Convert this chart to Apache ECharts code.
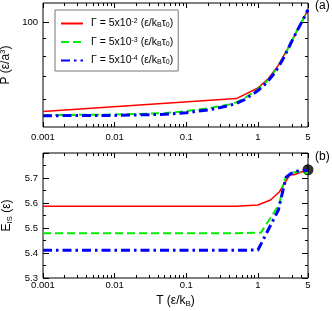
<!DOCTYPE html>
<html><head><meta charset="utf-8">
<script src="https://cdn.jsdelivr.net/npm/echarts@6/dist/echarts.min.js"></script>
<style>html,body{margin:0;padding:0;background:#fff}#c{width:332px;height:311px}</style>
</head><body><div id="c"></div>
<script>
// ---------- data ----------
const gammaExp = ['-2', '-3', '-4'];
const seriesNames = ['Γ = 5x10^-2 (ε/k_Bτ_0)', 'Γ = 5x10^-3 (ε/k_Bτ_0)', 'Γ = 5x10^-4 (ε/k_Bτ_0)'];
const colors = ['#ff0000', '#00ee00', '#0000ff'];

// panel (a): pressure P vs T
const tRedA = [0.001, 0.5, 1, 1.4, 1.9, 2.6, 3.6, 5];
const pRedA = [55.4, 60.4, 64.8, 69.0, 75.0, 84.0, 95.7, 109];
const tGreenA = [0.001, 0.01, 0.05, 0.1, 0.2, 0.3, 0.4, 0.5, 0.65, 0.8, 1, 1.2, 1.4, 1.6, 1.9, 2.2, 2.6, 3, 3.6, 4.2, 5];
const pGreenA = [54.1, 54.3, 54.8, 55.6, 56.6, 57.4, 58.1, 58.9, 60.6, 62.3, 64.3, 66.4, 68.5, 70.9, 74.6, 78.4, 83.9, 89.0, 95.7, 101.5, 109];
const tBlueA = [0.001, 0.01, 0.05, 0.1, 0.2, 0.3, 0.4, 0.5, 0.65, 0.8, 1, 1.2, 1.4, 1.6, 1.9, 2.2, 2.6, 3, 3.6, 4.2, 5];
const pBlueA = [53.9, 54.0, 54.4, 55.0, 56.0, 56.9, 57.7, 58.5, 60.0, 61.7, 63.7, 65.8, 68.0, 70.4, 74.0, 78.0, 83.5, 88.8, 95.5, 101.5, 109];

// panel (b): inherent structure energy E_IS vs T
const tRedB = [0.001, 0.5, 1.0, 1.5, 2.0, 2.4, 2.8, 3.2, 3.7, 4.3, 5];
const eRedB = [5.587, 5.587, 5.592, 5.612, 5.645, 5.683, 5.713, 5.713, 5.72, 5.727, 5.73];
const tGreenB = [0.001, 0.5, 1.1, 2.0, 2.3, 2.8, 3.5, 4.2, 5];
const eGreenB = [5.479, 5.479, 5.481, 5.596, 5.689, 5.718, 5.725, 5.722, 5.72];
const tBlueB = [0.001, 0.5, 1.0, 1.93, 2.47, 2.9, 3.5, 4.2, 5];
const eBlueB = [5.411, 5.411, 5.412, 5.572, 5.703, 5.718, 5.727, 5.73, 5.73];
const markerT = [5];
const markerE = [5.733];

// ticks
const xTickValues = [0.001, 0.01, 0.1, 1, 5];
const xTickLabels = ['0.001', '0.01', '0.1', '1', '5'];
const pTickValues = [100];
const pTickLabels = ['100'];
const pMinorValues = [60, 70, 80, 90];
const eTickValues = [5.3, 5.4, 5.5, 5.6, 5.7];
const eTickLabels = ['5.3', '5.4', '5.5', '5.6', '5.7'];
const eMajorTicks = [5.3, 5.4, 5.5, 5.6, 5.7, 5.8];
const eMinorTicks = [5.35, 5.45, 5.55, 5.65, 5.75];

// ---------- chart ----------
const L = Math.log10;
const FONT = '"Liberation Sans", Arial, Helvetica, sans-serif';
const xMin = L(0.001), xMax = L(5);
const xMajor = xTickValues.map(L);
const xMinor = [];
for (let n = -3; n <= 0; n++) for (let k = 2; k <= 9; k++) { const v = k * Math.pow(10, n); if (v < 5) xMinor.push(L(v)); }

function lookup(vals, labels, v) {
  let best = 0, d = Infinity;
  vals.forEach((x, i) => { const dd = Math.abs(x - v); if (dd < d) { d = dd; best = i; } });
  return labels[best];
}

const tickLine = { color: '#000', width: 1 };
const noLine = { show: false, onZero: false };
function xAxes(gi, labelMargin, name) {
  const base = { gridIndex: gi, type: 'value', min: xMin, max: xMax, splitLine: { show: false }, axisLine: noLine };
  return [
    Object.assign({}, base, {
      position: 'bottom',
      axisLabel: { customValues: xMajor, formatter: v => lookup(xMajor, xTickLabels, v), fontSize: 9.5, color: '#000', fontFamily: FONT, margin: labelMargin },
      axisTick: { inside: true, length: 5, customValues: xMajor, lineStyle: tickLine },
      name: name || '', nameLocation: 'middle', nameGap: 16,
      nameTextStyle: { fontSize: 12, color: '#000', fontFamily: FONT, rich: { sub: { fontSize: 8, verticalAlign: 'bottom', fontFamily: FONT, padding: [6, 0, 0, 0] } } }
    }),
    Object.assign({}, base, { position: 'bottom', axisLabel: { show: false }, axisTick: { inside: true, length: 3, customValues: xMinor, lineStyle: tickLine } }),
    Object.assign({}, base, { position: 'top', axisLabel: { show: false }, axisTick: { inside: true, length: 5, customValues: xMajor, lineStyle: tickLine } }),
    Object.assign({}, base, { position: 'top', axisLabel: { show: false }, axisTick: { inside: true, length: 3, customValues: xMinor, lineStyle: tickLine } })
  ];
}
function yAxes(gi, min, max, major, minor, labelVals, labelFmt, name, nameRich) {
  const base = { gridIndex: gi, type: 'value', min: min, max: max, splitLine: { show: false }, axisLine: noLine };
  return [
    Object.assign({}, base, {
      position: 'left',
      axisLabel: { customValues: labelVals, formatter: labelFmt, fontSize: 9.5, color: '#000', fontFamily: FONT, margin: 5 },
      axisTick: { inside: true, length: 6, customValues: major, lineStyle: tickLine },
      name: name, nameLocation: 'middle', nameGap: 22,
      nameTextStyle: { fontSize: 12, color: '#000', fontFamily: FONT, rich: nameRich }
    }),
    Object.assign({}, base, { position: 'left', axisLabel: { show: false }, axisTick: { inside: true, length: 3, customValues: minor, lineStyle: tickLine } }),
    Object.assign({}, base, { position: 'right', axisLabel: { show: false }, axisTick: { inside: true, length: 6, customValues: major, lineStyle: tickLine } }),
    Object.assign({}, base, { position: 'right', axisLabel: { show: false }, axisTick: { inside: true, length: 3, customValues: minor, lineStyle: tickLine } })
  ];
}

const pMin = L(50), pMax = L(114);
const yA = yAxes(0, pMin, pMax, pTickValues.map(L), pMinorValues.map(L), pTickValues.map(L),
  v => lookup(pTickValues.map(L), pTickLabels, v),
  'P (ε/a{sup|3})', { sup: { fontSize: 8, verticalAlign: 'top', fontFamily: FONT, padding: [0, 0, 5, 0] } });
const yB = yAxes(1, 5.3, 5.8, eMajorTicks, eMinorTicks, eTickValues,
  v => lookup(eTickValues, eTickLabels, v),
  'E{sub|IS} (ε)', { sub: { fontSize: 8, verticalAlign: 'bottom', fontFamily: FONT, padding: [6, 0, 0, 0] } });

const styles = [
  { color: colors[0], width: 1.5, type: 'solid' },
  { color: colors[1], width: 2, type: [8, 4] },
  { color: colors[2], width: 3, type: [9, 4, 2.5, 4] }
];
function lineSeries(name, idx, xa, ya, ts, vs, logY) {
  return {
    name: name, type: 'line', xAxisIndex: xa, yAxisIndex: ya, symbol: 'none', showSymbol: false,
    lineStyle: styles[idx], itemStyle: { color: colors[idx] }, animation: false,
    data: ts.map((t, i) => [L(t), logY ? L(vs[i]) : vs[i]])
  };
}

const series = [
  lineSeries(seriesNames[0], 0, 0, 0, tRedA, pRedA, true),
  lineSeries(seriesNames[1], 1, 0, 0, tGreenA, pGreenA, true),
  lineSeries(seriesNames[2], 2, 0, 0, tBlueA, pBlueA, true),
  lineSeries(seriesNames[0], 0, 4, 4, tRedB, eRedB, false),
  lineSeries(seriesNames[1], 1, 4, 4, tGreenB, eGreenB, false),
  lineSeries(seriesNames[2], 2, 4, 4, tBlueB, eBlueB, false),
  {
    type: 'scatter', xAxisIndex: 4, yAxisIndex: 4, symbol: 'circle', symbolSize: 11, clip: false,
    itemStyle: { color: '#000' }, animation: false,
    data: markerT.map((t, i) => [L(t), markerE[i]])
  }
];

const chart = echarts.init(document.getElementById('c'), null, { renderer: 'canvas' });
chart.setOption({
  animation: false,
  backgroundColor: '#fff',
  textStyle: { fontFamily: FONT },
  title: [
    { text: '(a)', left: 315, top: 0, padding: 0, textStyle: { fontSize: 12, fontWeight: 'normal', color: '#000', fontFamily: FONT } },
    { text: '(b)', left: 315, top: 151, padding: 0, textStyle: { fontSize: 12, fontWeight: 'normal', color: '#000', fontFamily: FONT } }
  ],
  grid: [
    { left: 43, top: 3, width: 265, height: 124, show: true, borderColor: '#000', borderWidth: 1, backgroundColor: 'transparent', containLabel: false, outerBoundsMode: 'none' },
    { left: 43, top: 153, width: 265, height: 125, show: true, borderColor: '#000', borderWidth: 1, backgroundColor: 'transparent', containLabel: false, outerBoundsMode: 'none' }
  ],
  xAxis: xAxes(0, 5).concat(xAxes(1, 2, 'T (ε/k{sub|B})')),
  yAxis: yA.concat(yB),
  legend: {
    data: seriesNames,
    orient: 'vertical', left: 55, top: 10,
    padding: [8, 5, 5, 5], itemGap: 7.5, itemWidth: 22, itemHeight: 12,
    borderColor: '#777', borderWidth: 1, backgroundColor: '#fff',
    itemStyle: { opacity: 0 },
    formatter: name => {
      const i = seriesNames.indexOf(name);
      return 'Γ = 5x10{sup|' + gammaExp[i] + '} (ε/k{sub|B}τ{sub|0})';
    },
    textStyle: {
      fontSize: 10.5, color: '#000', fontFamily: FONT, padding: [0, 0, 0, 3],
      rich: {
        sup: { fontSize: 7, verticalAlign: 'top', fontFamily: FONT, padding: [0, 0, 4, 0] },
        sub: { fontSize: 7, verticalAlign: 'bottom', fontFamily: FONT, padding: [4, 0, 0, 0] }
      }
    }
  },
  series: series
});
</script>
</body></html>
